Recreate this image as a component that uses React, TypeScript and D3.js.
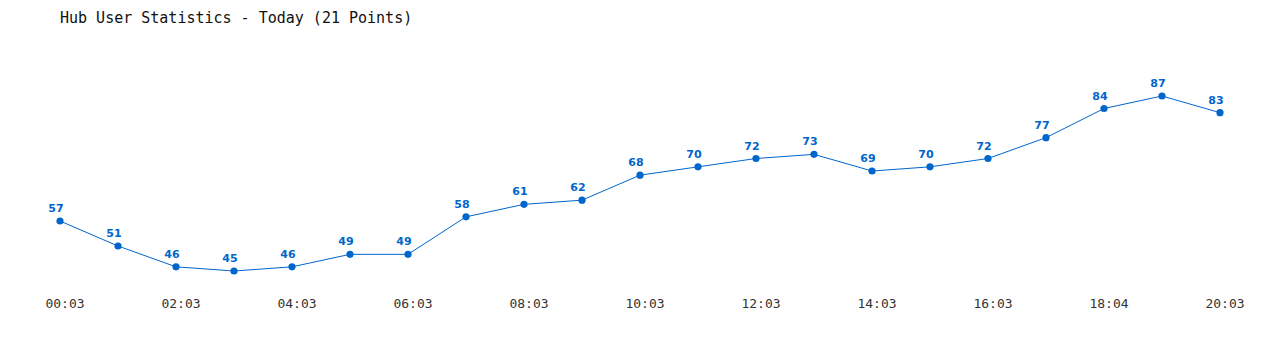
import React from "react";
import * as d3 from "d3";

const title = "Hub User Statistics - Today (21 Points)";
const values = [57, 51, 46, 45, 46, 49, 49, 58, 61, 62, 68, 70, 72, 73, 69, 70, 72, 77, 84, 87, 83];
const tickIndices = [0, 2, 4, 6, 8, 10, 12, 14, 16, 18, 20];
const tickLabels = ["00:03", "02:03", "04:03", "06:03", "08:03", "10:03", "12:03", "14:03", "16:03", "18:04", "20:03"];

const W = 1280;
const H = 350;
const blue = "#0066cc";

export default function App() {
  const x = d3.scaleLinear().domain([0, values.length - 1]).range([60, 1220]);
  const y = d3.scaleLinear().domain([45, 87]).range([271, 96]);
  const line = d3.line<number>().x((_, i) => x(i)).y((d) => y(d));
  return (
    <svg width={W} height={H} style={{ position: "absolute", left: 0, top: 0, background: "#fff" }}>
      <text x={60} y={23} fontFamily="'DejaVu Sans Mono', monospace" fontSize={15} fill="#111">
        {title}
      </text>
      <path d={line(values) || ""} fill="none" stroke={blue} strokeWidth={1} />
      {values.map((v, i) => (
        <circle key={"c" + i} cx={x(i)} cy={y(v)} r={3.6} fill={blue} />
      ))}
      {values.map((v, i) => (
        <text
          key={"t" + i}
          x={x(i) - 4}
          y={y(v) - 9}
          textAnchor="middle"
          fontFamily="'DejaVu Sans', Verdana, sans-serif"
          fontWeight="bold"
          fontSize={11}
          fill={blue}
        >
          {v}
        </text>
      ))}
      {tickIndices.map((idx, k) => (
        <text
          key={"x" + k}
          x={x(idx) + 5}
          y={308}
          textAnchor="middle"
          fontFamily="'DejaVu Sans Mono', monospace"
          fontSize={13}
          fill="#333"
        >
          {tickLabels[k]}
        </text>
      ))}
    </svg>
  );
}
